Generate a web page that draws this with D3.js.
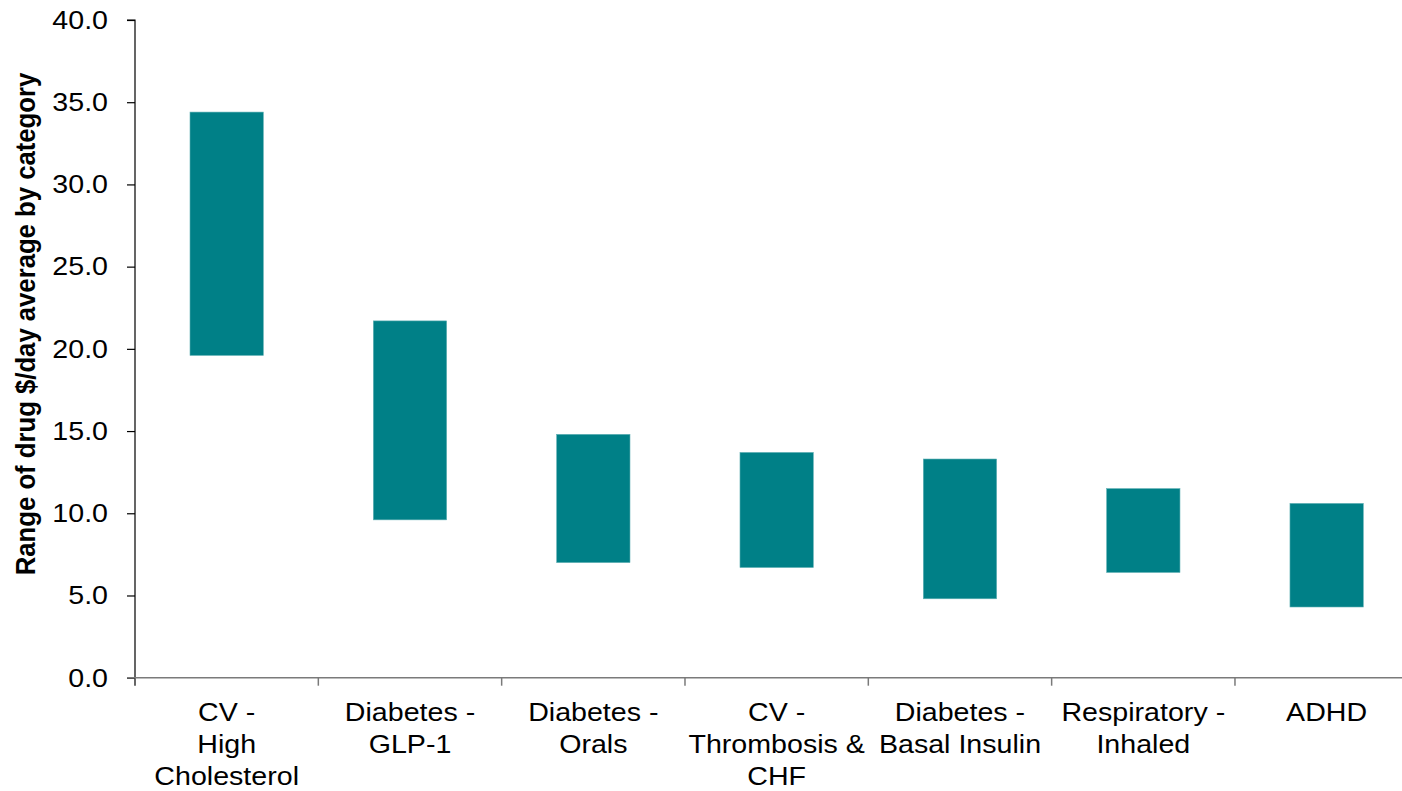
<!DOCTYPE html>
<html>
<head>
<meta charset="utf-8">
<script src="https://cdn.jsdelivr.net/npm/d3@7"></script>
<style>
  html, body { margin: 0; padding: 0; background: #fff; }
  svg { display: block; font-family: "Liberation Sans", Arial, sans-serif; }
</style>
</head>
<body>
<svg id="chart" width="1402" height="791"></svg>
<script>
// Drug categories (label lines as shown under the axis)
const categories = [
  "CV - High Cholesterol",
  "Diabetes - GLP-1",
  "Diabetes - Orals",
  "CV - Thrombosis & CHF",
  "Diabetes - Basal Insulin",
  "Respiratory - Inhaled",
  "ADHD"
];
const categoryLines = [
  ["CV -", "High", "Cholesterol"],
  ["Diabetes -", "GLP-1"],
  ["Diabetes -", "Orals"],
  ["CV -", "Thrombosis &", "CHF"],
  ["Diabetes -", "Basal Insulin"],
  ["Respiratory -", "Inhaled"],
  ["ADHD"]
];
// Low and high ends of the $/day range per category
const lowValues  = [19.6, 9.6, 7.0, 6.7, 4.8, 6.4, 4.3];
const highValues = [34.4, 21.7, 14.8, 13.7, 13.3, 11.5, 10.6];
const yTicks = [0, 5, 10, 15, 20, 25, 30, 35, 40];
const yTitle = "Range of drug $/day average by category";

const svg = d3.select("#chart");
const plot = { left: 135, right: 1418.3, top: 20, bottom: 677.7 };
const stretch = 1.1;   // text is set slightly wide

const x = d3.scaleBand()
  .domain(categories)
  .range([plot.left, plot.right])
  .paddingInner(0.6)
  .paddingOuter(0.3);

const y = d3.scaleLinear().domain([0, 40]).range([plot.bottom, plot.top]);

// Range bars
svg.append("g")
  .selectAll("rect")
  .data(categories)
  .join("rect")
  .attr("x", d => x(d))
  .attr("width", x.bandwidth())
  .attr("y", (d, i) => y(highValues[i]))
  .attr("height", (d, i) => y(lowValues[i]) - y(highValues[i]))
  .attr("fill", "#008087")
  .attr("stroke", "#5fb0b4")
  .attr("stroke-width", 0.6);

// Y axis
const yAxis = svg.append("g")
  .attr("transform", `translate(${plot.left},0)`)
  .call(d3.axisLeft(y).tickValues(yTicks).tickFormat(d3.format(".1f")).tickSize(8).tickPadding(19));
yAxis.select(".domain").attr("stroke", "#000").attr("stroke-width", 1.2)
  .attr("d", `M-8,${plot.top}H0V${plot.bottom + 8}`);
yAxis.selectAll(".tick line").attr("stroke", "#000").attr("stroke-width", 1.2);
yAxis.selectAll(".tick text")
  .attr("x", 0)
  .attr("transform", `translate(-27,0) scale(${stretch},1)`)
  .attr("fill", "#000")
  .style("font-size", "26px")
  .style("font-family", "'Liberation Sans', Arial, sans-serif");

// X axis baseline with ticks at category boundaries
const gap = x.step() * x.paddingOuter();
const boundaries = categories.map(c => x(c) - gap).concat([plot.right]);
const xg = svg.append("g");
xg.append("line")
  .attr("x1", plot.left - 8).attr("x2", plot.right)
  .attr("y1", plot.bottom).attr("y2", plot.bottom)
  .attr("stroke", "#7a7a7a").attr("stroke-width", 1.5);
xg.selectAll("line.tick")
  .data(boundaries.slice(1))
  .join("line")
  .attr("class", "tick")
  .attr("x1", d => d).attr("x2", d => d)
  .attr("y1", plot.bottom).attr("y2", plot.bottom + 8)
  .attr("stroke", "#7a7a7a").attr("stroke-width", 1.5);

// Category labels
const labels = svg.append("g")
  .selectAll("text")
  .data(categories)
  .join("text")
  .attr("transform", d => `translate(${x(d) + x.bandwidth() / 2},721) scale(${stretch},1)`)
  .attr("text-anchor", "middle")
  .attr("fill", "#000")
  .style("font-size", "26px");
labels.each(function(d, i) {
  d3.select(this).selectAll("tspan")
    .data(categoryLines[i])
    .join("tspan")
    .attr("x", 0)
    .attr("dy", (t, j) => j === 0 ? 0 : 32)
    .text(t => t);
});

// Y axis title
svg.append("text")
  .attr("transform", `translate(35,324) scale(${stretch},1) rotate(-90)`)
  .attr("text-anchor", "middle")
  .attr("fill", "#000")
  .style("font-size", "25.7px")
  .style("font-weight", "bold")
  .text(yTitle);
</script>
</body>
</html>
